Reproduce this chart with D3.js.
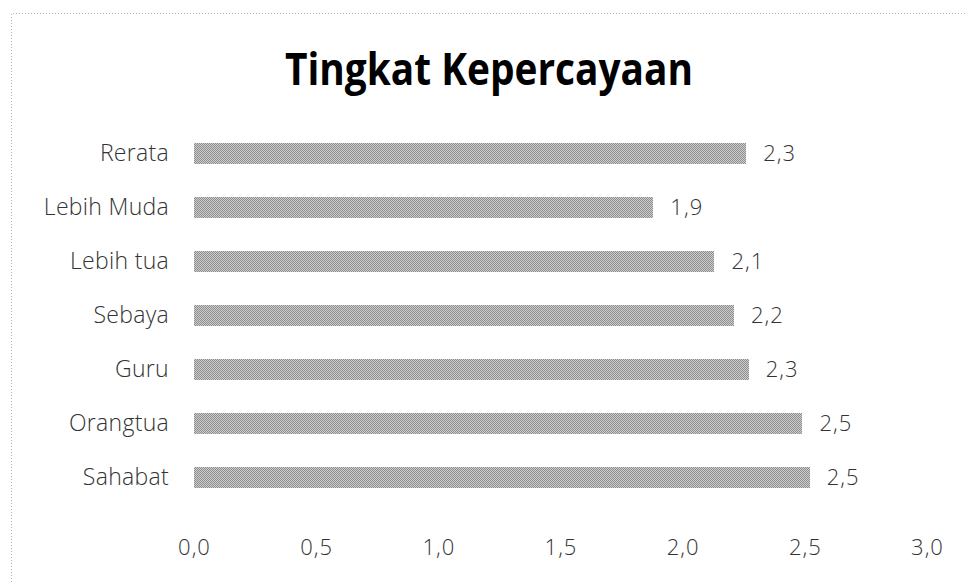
<!DOCTYPE html>
<html>
<head>
<meta charset="utf-8">
<script src="https://cdn.jsdelivr.net/npm/d3@7"></script>
<style>
  html, body { margin: 0; padding: 0; background: #fff; }
  svg { display: block; }
</style>
</head>
<body>
<svg id="chart" width="965" height="582"></svg>
<script>
// Trust level per relationship group (top to bottom as drawn)
const categories = ["Rerata", "Lebih Muda", "Lebih tua", "Sebaya", "Guru", "Orangtua", "Sahabat"];
const values = [2.26, 1.88, 2.13, 2.21, 2.27, 2.49, 2.52];
const tickValues = [0, 0.5, 1.0, 1.5, 2.0, 2.5, 3.0];
const chartTitle = "Tingkat Kepercayaan";

const W = 965, H = 582;
const svg = d3.select("#chart");

// Comma decimal separator
const fmt = v => d3.format(".1f")(v).replace(".", ",");

// Dotted chart-area frame
svg.append("path")
  .attr("d", `M11.5,${H} L11.5,13.5 L${W},13.5`)
  .attr("fill", "none")
  .attr("stroke", "#b5b5b5")
  .attr("stroke-width", 1)
  .attr("stroke-dasharray", "1,2");

// Dithered grey fill for the bars
const defs = svg.append("defs");
const pat = defs.append("pattern")
  .attr("id", "dither")
  .attr("patternUnits", "userSpaceOnUse")
  .attr("width", 2).attr("height", 2);
pat.append("rect").attr("width", 2).attr("height", 2).attr("fill", "#cdcdcd");
pat.append("rect").attr("x", 0).attr("y", 0).attr("width", 1).attr("height", 1).attr("fill", "#8e8e8e");
pat.append("rect").attr("x", 1).attr("y", 1).attr("width", 1).attr("height", 1).attr("fill", "#8e8e8e");

const x = d3.scaleLinear().domain([0, 3]).range([194, 927]);
const y = d3.scaleBand().domain(categories).range([126, 504])
  .paddingInner(0.62).paddingOuter(0.31).round(true);

// Title
svg.append("text")
  .attr("x", 489).attr("y", 85)
  .attr("text-anchor", "middle")
  .attr("font-family", "'Open Sans', 'DejaVu Sans', sans-serif")
  .attr("font-weight", 700)
  .attr("font-size", 44)
  .attr("textLength", 408)
  .attr("lengthAdjust", "spacingAndGlyphs")
  .attr("fill", "#000")
  .text(chartTitle);

// Bars
svg.append("g").selectAll("rect")
  .data(categories)
  .join("rect")
  .attr("x", x(0))
  .attr("y", d => y(d))
  .attr("width", (d, i) => Math.round(x(values[i]) - x(0)))
  .attr("height", y.bandwidth())
  .attr("fill", "url(#dither)");

const labelFont = "'Open Sans', 'DejaVu Sans', sans-serif";

// Category axis (no line, no ticks)
const yAxis = svg.append("g")
  .attr("transform", `translate(${x(0) - 25},0)`)
  .call(d3.axisLeft(y).tickSize(0).tickPadding(0));
yAxis.select(".domain").remove();
yAxis.selectAll("text")
  .attr("font-family", labelFont)
  .attr("font-weight", 300)
  .attr("font-size", 23)
  .attr("letter-spacing", 0.3)
  .attr("fill", "#333");

// Value axis (labels only)
const xAxis = svg.append("g")
  .attr("transform", `translate(0,539)`)
  .call(d3.axisBottom(x).tickValues(tickValues).tickFormat(fmt).tickSize(0).tickPadding(0));
xAxis.select(".domain").remove();
xAxis.selectAll("text")
  .attr("font-family", labelFont)
  .attr("font-weight", 300)
  .attr("font-size", 22)
  .attr("letter-spacing", 1)
  .attr("fill", "#333");

// Value labels at bar ends
svg.append("g").selectAll("text")
  .data(categories)
  .join("text")
  .attr("x", (d, i) => x(values[i]) + 17)
  .attr("y", d => y(d) + y.bandwidth() / 2)
  .attr("dy", "0.35em")
  .attr("font-family", labelFont)
  .attr("font-weight", 300)
  .attr("font-size", 22)
  .attr("letter-spacing", 1)
  .attr("fill", "#333")
  .text((d, i) => fmt(values[i]));
</script>
</body>
</html>
